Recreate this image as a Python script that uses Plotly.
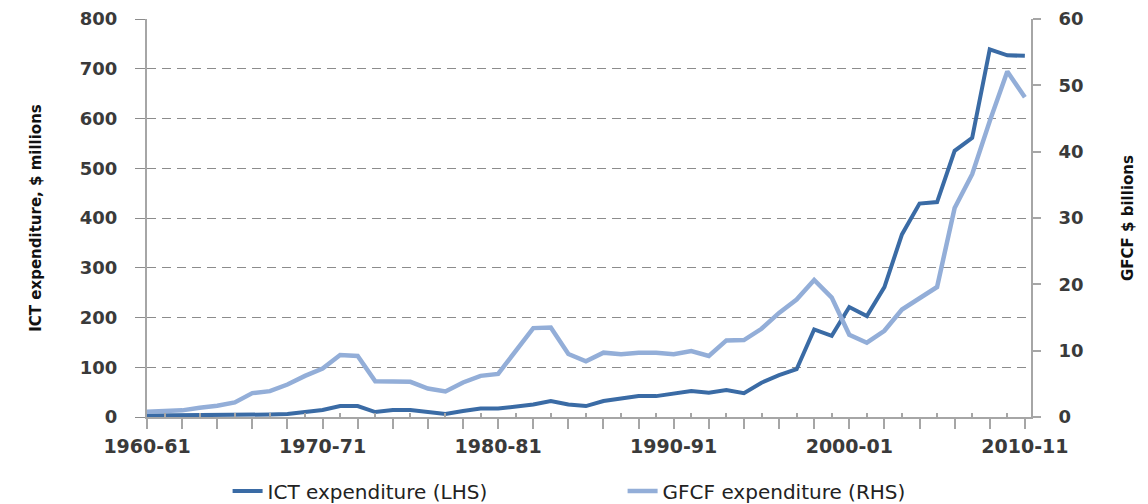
import plotly.graph_objects as go

years = [f"{y}-{str(y + 1)[-2:]}" for y in range(1960, 2011)]

ict_expenditure = [3, 3, 3, 4, 4, 4, 5, 5, 6, 9, 14, 22, 22, 10, 14, 14, 11, 6, 12, 17,
                   17, 20, 25, 32, 25, 22, 32, 37, 42, 42, 46, 52, 49, 54, 48, 69, 84, 96, 176, 163,
                   221, 203, 261, 367, 429, 432, 535, 561, 739, 727, 726]

gfcf_expenditure = [0.8, 0.9, 1.0, 1.4, 1.7, 2.2, 3.6, 3.9, 4.9, 6.2, 7.3, 9.35, 9.2, 5.4, 5.4, 5.3, 4.3, 3.85, 5.2, 6.2,
                    6.5, 9.95, 13.4, 13.5, 9.5, 8.4, 9.7, 9.45, 9.7, 9.7, 9.45, 9.95, 9.2, 11.55, 11.6, 13.3, 15.7, 17.7, 20.65, 18.0,
                    12.4, 11.2, 13.0, 16.2, 18.0, 19.6, 31.5, 36.6, 44.6, 52.1, 48.2]

left_ticks = [0, 100, 200, 300, 400, 500, 600, 700, 800]
right_ticks = [0, 10, 20, 30, 40, 50, 60]
major_x = years[::2]
major_text = [y if i % 10 == 0 else "" for i, y in enumerate(years) if i % 2 == 0]
minor_x = years[1::2]

DARK = "#3A6BA5"
LIGHT = "#93AED8"
AXIS = "#a6a6a6"
TXT = "#3a3a3a"
FONT = "DejaVu Sans"

fig = go.Figure()
fig.add_trace(go.Scatter(x=years, y=ict_expenditure, mode="lines", name="ICT expenditure (LHS)",
                         line=dict(color=DARK, width=4), yaxis="y"))
fig.add_trace(go.Scatter(x=years, y=gfcf_expenditure, mode="lines", name="GFCF expenditure (RHS)",
                         line=dict(color=LIGHT, width=4.5), yaxis="y2"))

# page body has an 8px margin, so the figure is 8px smaller and margins shifted
fig.update_layout(
    width=1140, height=496,
    margin=dict(l=139, r=117, t=11, b=87, autoexpand=False),
    plot_bgcolor="white", paper_bgcolor="white",
    font=dict(family=FONT, color=TXT),
    showlegend=True,
    legend=dict(orientation="h", x=0.538, xanchor="center", y=-0.186, yanchor="middle",
                font=dict(family=FONT, size=20, color="#222"), entrywidth=350,
                traceorder="normal"),
    xaxis=dict(type="category", range=[0, 50.35], showgrid=False, automargin=False,
               showline=True, linecolor=AXIS, linewidth=2,
               ticks="outside", ticklen=10, tickwidth=2, tickcolor=AXIS,
               tickmode="array", tickvals=major_x, ticktext=major_text,
               tickfont=dict(family=FONT, size=19, color=TXT, weight="bold"),
               ticklabelstandoff=1, ticklabeloverflow="allow",
               minor=dict(tickmode="array", tickvals=minor_x, ticks="inside", ticklen=4,
                          tickwidth=2, tickcolor=AXIS, showgrid=False),
               zeroline=False),
    yaxis=dict(range=[0, 800], tickmode="array", tickvals=left_ticks, automargin=False,
               showgrid=True, gridcolor="#8c8c8c", gridwidth=1, griddash="9px,6px",
               showline=True, linecolor=AXIS, linewidth=2,
               ticks="outside", ticklen=10, tickwidth=1, tickcolor="#8c8c8c",
               tickfont=dict(family=FONT, size=18, color=TXT, weight="bold"),
               ticklabelstandoff=14, ticklabeloverflow="allow", zeroline=False,
               title=dict(text="ICT expenditure, $ millions", standoff=35,
                          font=dict(family=FONT, size=15, color="#111", weight="bold"))),
    yaxis2=dict(range=[0, 60], overlaying="y", side="right", tickmode="array", tickvals=right_ticks,
                automargin=False,
                showgrid=False, showline=True, linecolor=AXIS, linewidth=2,
                ticks="outside", ticklen=8, tickwidth=2, tickcolor=AXIS,
                tickfont=dict(family=FONT, size=18, color=TXT, weight="bold"),
                ticklabelstandoff=14, ticklabeloverflow="allow", zeroline=False,
                title=dict(text="GFCF $ billions", standoff=40,
                           font=dict(family=FONT, size=15, color="#111", weight="bold"))),
)

fig.write_html("out.html")
